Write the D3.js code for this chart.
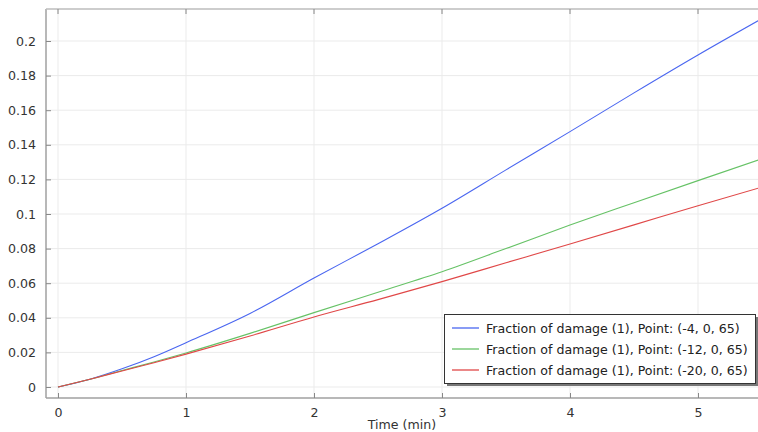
<!DOCTYPE html>
<html><head><meta charset="utf-8">
<script src="https://cdn.jsdelivr.net/npm/d3@7"></script>
<style>body{margin:0;background:#fff;} svg{display:block;font-family:"DejaVu Sans",sans-serif;}</style>
</head><body>
<svg id="c" width="758" height="432"></svg>
<script>
const times = [0, 0.25, 0.5, 0.75, 1, 1.5, 2, 2.5, 3, 3.5, 4, 4.5, 5, 5.47];
const blueVals  = [0, 0.0045, 0.0105, 0.0175, 0.0256, 0.0425, 0.063, 0.0828, 0.1033, 0.1255, 0.1476, 0.170, 0.1919, 0.2117];
const greenVals = [0, 0.0045, 0.0095, 0.0145, 0.0197, 0.031, 0.043, 0.0548, 0.0666, 0.080, 0.0936, 0.1065, 0.1193, 0.1312];
const redVals   = [0, 0.0045, 0.0093, 0.014, 0.019, 0.0295, 0.0405, 0.0505, 0.0609, 0.0718, 0.0827, 0.0937, 0.1048, 0.1149];
const seriesNames = ["Fraction of damage (1), Point: (-4, 0, 65)", "Fraction of damage (1), Point: (-12, 0, 65)", "Fraction of damage (1), Point: (-20, 0, 65)"];
const seriesColors = ["#4a66f0", "#66c266", "#e04848"];
const xTicks = [0, 1, 2, 3, 4, 5];
const yTicks = [0, 0.02, 0.04, 0.06, 0.08, 0.1, 0.12, 0.14, 0.16, 0.18, 0.2];
const xLabel = "Time (min)";

const svg = d3.select("#c");
const L = 46, R = 760, T = 9, B = 398;
const x = d3.scaleLinear().domain([0, 5]).range([58, 698]);
const y = d3.scaleLinear().domain([0, 0.2]).range([387, 41]);

// gridlines
svg.append("g").selectAll("line").data(xTicks).join("line")
  .attr("x1", d => x(d)).attr("x2", d => x(d)).attr("y1", T).attr("y2", B)
  .attr("stroke", "#ebebeb").attr("stroke-width", 1);
svg.append("g").selectAll("line").data(yTicks).join("line")
  .attr("x1", L).attr("x2", R).attr("y1", d => y(d)).attr("y2", d => y(d))
  .attr("stroke", "#ebebeb").attr("stroke-width", 1);

// lines
const line = d3.line().x(d => x(d[0])).y(d => y(d[1])).curve(d3.curveMonotoneX);
const allVals = [blueVals, greenVals, redVals];
svg.append("defs").append("clipPath").attr("id", "clip").append("rect")
  .attr("x", L).attr("y", T).attr("width", R - L).attr("height", B - T);
const lg = svg.append("g").attr("clip-path", "url(#clip)");
allVals.forEach((vals, i) => {
  lg.append("path").datum(times.map((t, j) => [t, vals[j]]))
    .attr("d", line).attr("fill", "none")
    .attr("stroke", seriesColors[i]).attr("stroke-width", 1.1);
});

// axes frame
const frame = "#a0a0a0";
svg.append("line").attr("x1", L).attr("x2", L).attr("y1", T).attr("y2", B).attr("stroke", frame).attr("stroke-width", 1.5);
svg.append("line").attr("x1", L).attr("x2", R).attr("y1", B).attr("y2", B).attr("stroke", frame).attr("stroke-width", 1.5);
svg.append("line").attr("x1", L).attr("x2", R).attr("y1", T).attr("y2", T).attr("stroke", "#bdbdbd").attr("stroke-width", 1.5);

const fs = 12.6;
// x axis (bottom) inward ticks
const xAxis = d3.axisBottom(x).tickValues(xTicks).tickSizeInner(-5).tickSizeOuter(0).tickPadding(10).tickFormat(d3.format("d"));
const gx = svg.append("g").attr("transform", `translate(0,${B})`).call(xAxis);
gx.select(".domain").remove();
gx.selectAll(".tick line").attr("stroke", "#888");
gx.selectAll("text").attr("fill", "#333").attr("font-size", fs).attr("font-family", "DejaVu Sans");
// top ticks
svg.append("g").selectAll("line").data(xTicks).join("line")
  .attr("x1", d => x(d)).attr("x2", d => x(d)).attr("y1", T).attr("y2", T + 5).attr("stroke", "#888");

// y axis inward ticks
const yAxis = d3.axisLeft(y).tickValues(yTicks).tickSizeInner(-5).tickSizeOuter(0).tickPadding(10).tickFormat(d => d === 0 ? "0" : String(+d.toFixed(2)));
const gy = svg.append("g").attr("transform", `translate(${L},0)`).call(yAxis);
gy.select(".domain").remove();
gy.selectAll(".tick line").attr("stroke", "#888");
gy.selectAll("text").attr("fill", "#333").attr("font-size", fs).attr("font-family", "DejaVu Sans");

svg.append("text").attr("x", 402).attr("y", 428.5).attr("text-anchor", "middle")
  .attr("font-size", fs).attr("fill", "#333").text(xLabel);

// legend
const lx = 444.5, ly = 314.5, lw = 311, lh = 69;
svg.append("rect").attr("x", lx + 2.5).attr("y", ly + 2.5).attr("width", lw).attr("height", lh).attr("fill", "#777");
svg.append("rect").attr("x", lx).attr("y", ly).attr("width", lw).attr("height", lh).attr("fill", "#fff").attr("stroke", "#333").attr("stroke-width", 1);
seriesNames.forEach((n, i) => {
  const yy = 328 + i * 21;
  svg.append("line").attr("x1", 452).attr("x2", 479).attr("y1", yy).attr("y2", yy).attr("stroke", seriesColors[i]).attr("stroke-width", 1.3);
  svg.append("text").attr("x", 486).attr("y", yy + 4.5).attr("font-size", fs).attr("fill", "#222").text(n);
});
</script>
</body></html>
